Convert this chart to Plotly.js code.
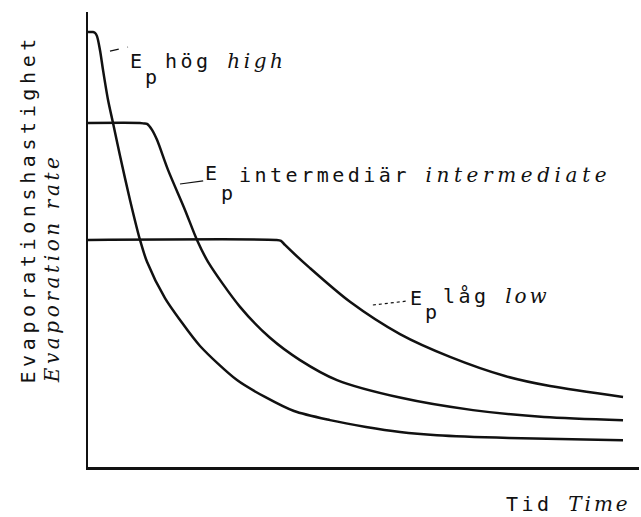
<!DOCTYPE html>
<html>
<head>
<meta charset="utf-8">
<script src="https://cdn.plot.ly/plotly-3.0.1.min.js"></script>
<style>
  html, body { margin: 0; padding: 0; background: #fff; }
  #chart { width: 641px; height: 517px; }
  /* typewriter-style spacing of the lettering */
  .annotation-text { letter-spacing: 3.5px; }
</style>
</head>
<body>
<div id="chart"></div>
<script>
// Time axis (relative units 0-100) and evaporation rate (relative units 0-100)
const timeHigh = [0, 0.91, 1.27, 1.63, 2.18, 2.72, 3.63, 4.54, 5.81, 7.62, 9.44, 10.71, 13.97, 16.70, 20.33, 27.04, 32.12, 37.39, 43.92, 50.45, 56.62, 63.34, 76.41, 97.10];
const rateHigh = [95.6, 95.6, 95.4, 94.7, 91.6, 87.3, 80.7, 75.6, 68.4, 58.7, 49.9, 45.1, 37.1, 32.3, 26.6, 19.1, 15.4, 12.3, 10.3, 8.8, 7.7, 7.0, 6.4, 5.9];

const timeMid = [0, 9.44, 10.16, 10.71, 11.62, 12.52, 14.52, 17.60, 19.78, 21.78, 27.59, 33.03, 38.48, 45.19, 56.81, 69.87, 82.76, 97.10];
const rateMid = [75.6, 75.6, 75.5, 75.4, 74.1, 71.9, 65.3, 56.5, 49.9, 45.1, 35.2, 28.4, 23.5, 19.1, 15.2, 12.5, 11.0, 10.3];

const timeLow = [0, 34.12, 35.03, 35.75, 40.29, 47.55, 56.62, 65.70, 75.68, 83.85, 97.10];
const rateLow = [49.9, 49.9, 49.7, 48.8, 43.7, 36.3, 29.2, 24.2, 20.0, 17.8, 15.4];

const seriesNames = ['E<sub>p</sub> hög', 'E<sub>p</sub> intermediär', 'E<sub>p</sub> låg'];

const MONO = 'DejaVu Sans Mono, monospace';
const ink = '#111111';

const lineStyle = { color: ink, width: 2.5, shape: 'spline', smoothing: 0.8 };
const traces = [
  { x: timeHigh, y: rateHigh, name: seriesNames[0] },
  { x: timeMid, y: rateMid, name: seriesNames[1] },
  { x: timeLow, y: rateLow, name: seriesNames[2] }
].map(t => Object.assign(t, { type: 'scatter', mode: 'lines', line: lineStyle, hoverinfo: 'skip' }));

// English glosses are set in a light serif italic
function it(s, sp) {
  return '<span style="font-family:DejaVu Serif;font-style:italic;font-weight:300;letter-spacing:' + (sp || 3) + 'px">' + s + '</span>';
}
function lab(x, y, text, extra) {
  return Object.assign({
    x: x, y: y, xref: 'x', yref: 'y', text: text, showarrow: false,
    xanchor: 'left', yanchor: 'middle',
    font: { family: MONO, size: 20, color: ink }
  }, extra || {});
}

const annotations = [
  // high
  lab(7.26, 89.2, 'E'),
  lab(9.98, 85.7, 'p'),
  lab(13.6, 89.2, 'hög ' + it('high', 3.6)),
  // intermediate
  lab(20.9, 64.6, 'E'),
  lab(23.8, 60.2, 'p'),
  lab(27.0, 64.2, 'intermediär ' + it('intermediate', 4.6)),
  // low
  lab(58.1, 37.1, 'E'),
  lab(60.8, 34.1, 'p'),
  lab(64.0, 37.6, 'låg ' + it('low', 3)),
  // axis titles
  {
    xref: 'paper', yref: 'paper', x: -0.109, y: 0.18, xanchor: 'center', yanchor: 'bottom',
    textangle: -90, showarrow: false,
    text: '<span style="letter-spacing:4.6px">Evaporationshastighet</span>',
    font: { family: MONO, size: 20, color: ink }
  },
  {
    xref: 'paper', yref: 'paper', x: -0.065, y: 0.18, xanchor: 'center', yanchor: 'bottom',
    textangle: -90, showarrow: false, text: it('Evaporation rate', 3.6),
    font: { family: MONO, size: 20, color: ink }
  },
  {
    xref: 'paper', yref: 'paper', x: 0.755, y: -0.081, xanchor: 'left', yanchor: 'middle',
    showarrow: false, text: 'Tid ' + it('Time', 3),
    font: { family: MONO, size: 20, color: ink }
  }
];

// leader lines from the curves to their labels
const leader = (x0, y0, x1, y1, dash) => ({
  type: 'line', xref: 'x', yref: 'y', x0: x0, y0: y0, x1: x1, y1: y1,
  line: { color: ink, width: 1.2, dash: dash }
});
const shapes = [
  leader(3.99, 91.4, 7.26, 92.3, 'dash'),
  leader(16.7, 62.2, 20.9, 62.9, 'solid'),
  leader(51.7, 35.6, 58.1, 36.5, 'dot')
];

const axisBase = {
  showline: true, linecolor: ink, linewidth: 2.5, mirror: false,
  showgrid: false, zeroline: false, showticklabels: false, ticks: '', fixedrange: true
};

const layout = {
  width: 641, height: 517,
  margin: { l: 88, r: 2, t: 12, b: 50 },
  paper_bgcolor: '#ffffff', plot_bgcolor: '#ffffff',
  showlegend: false,
  xaxis: Object.assign({ range: [0, 100] }, axisBase),
  yaxis: Object.assign({ range: [0, 100] }, axisBase),
  annotations: annotations,
  shapes: shapes
};

Plotly.newPlot('chart', traces, layout, { displayModeBar: false, staticPlot: true });
</script>
</body>
</html>
